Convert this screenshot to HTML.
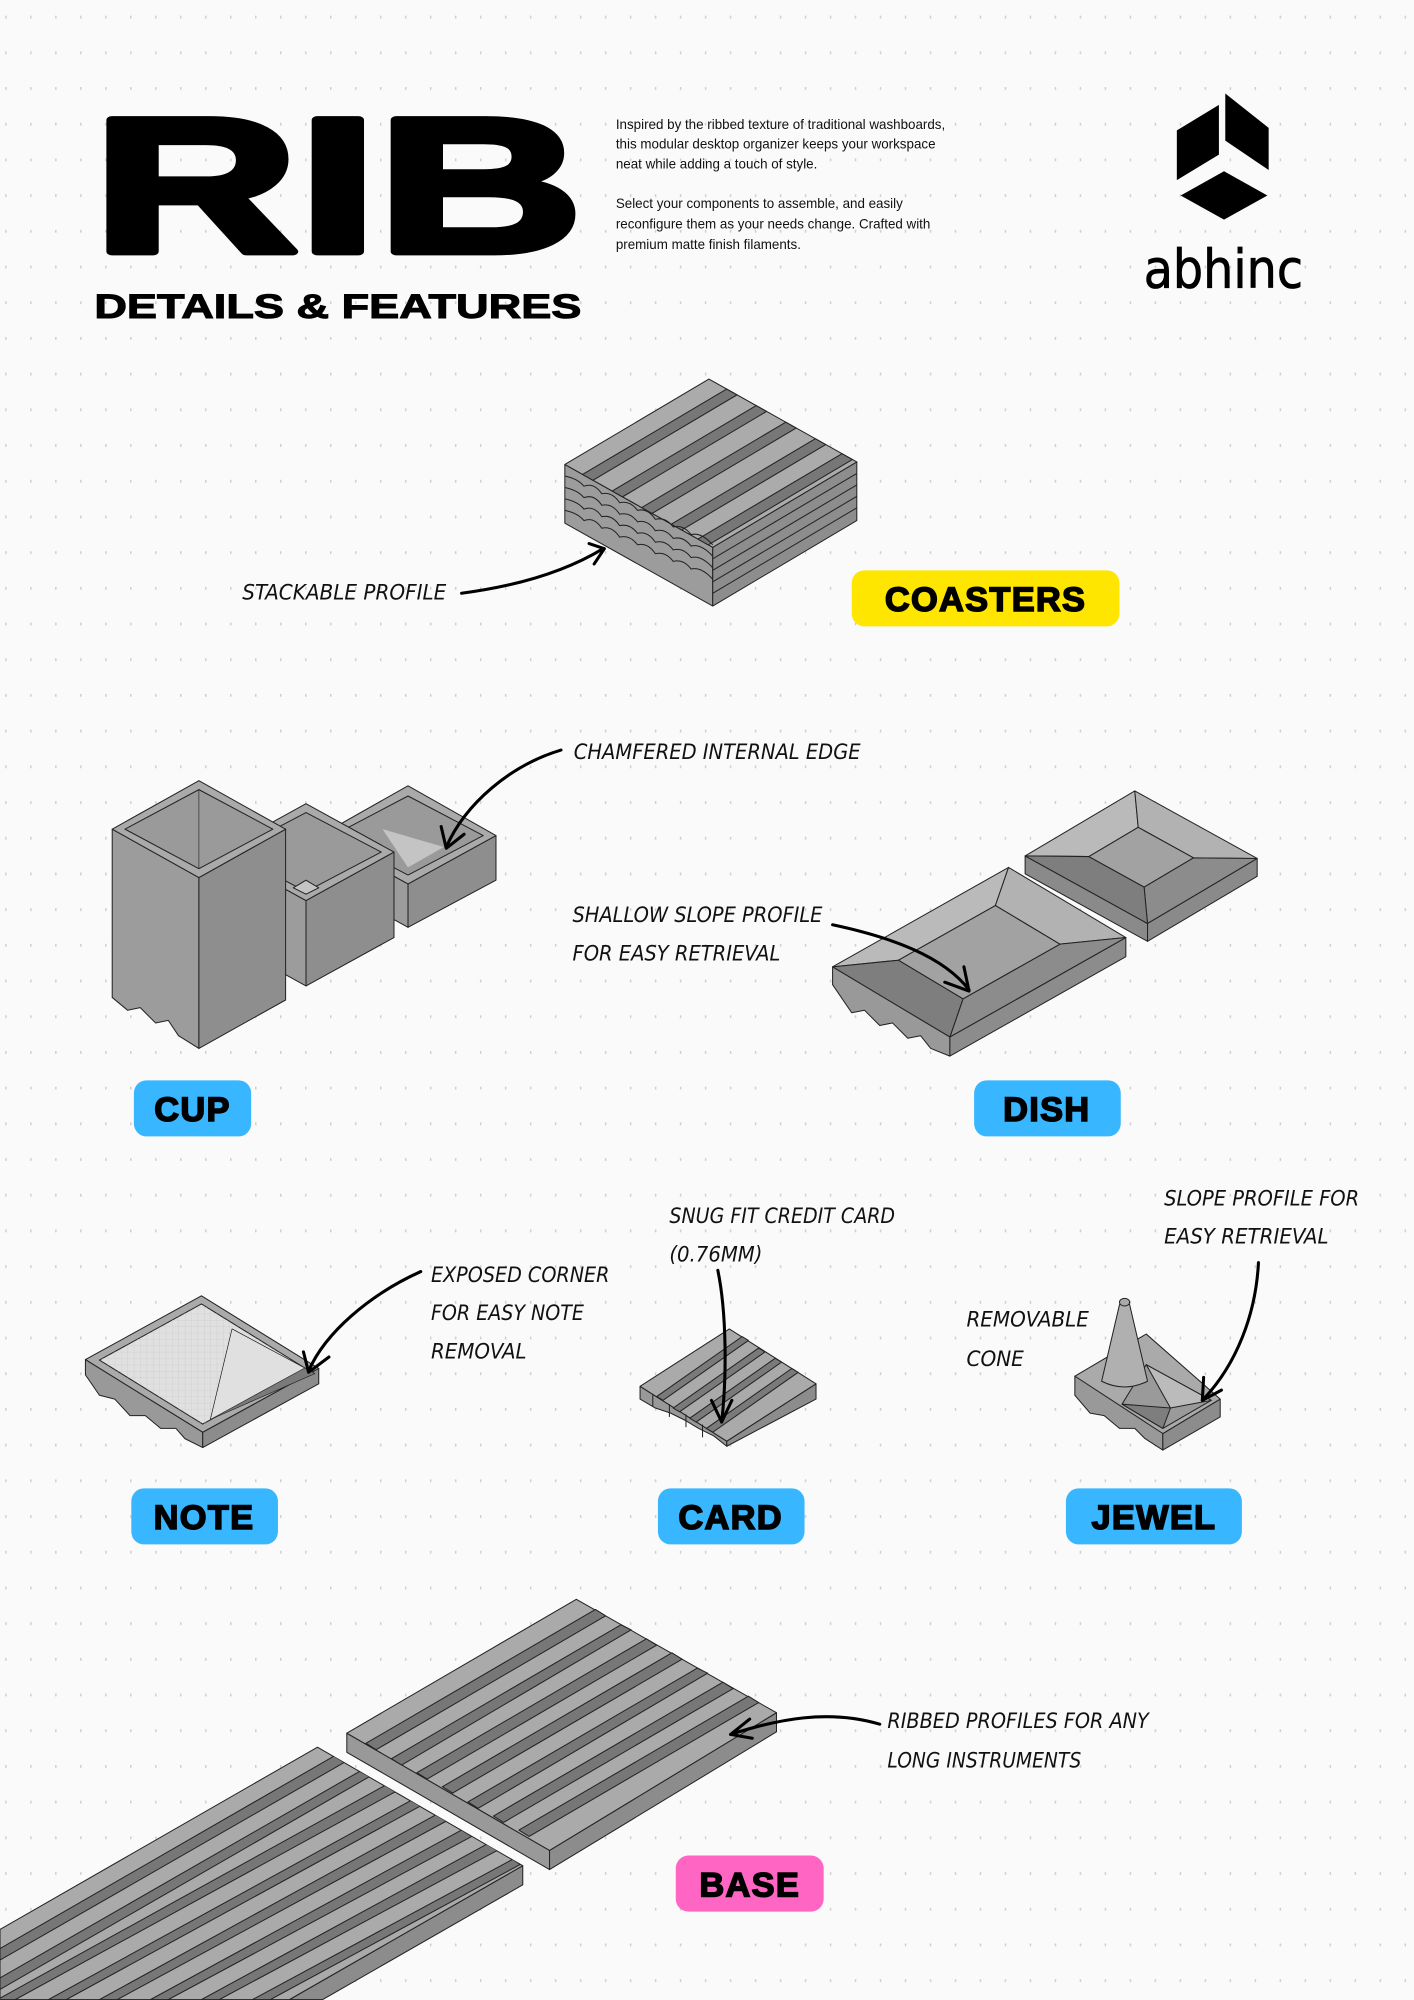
<!DOCTYPE html>
<html><head><meta charset="utf-8"><style>
html,body{margin:0;padding:0;background:#fafafa;}
svg{display:block;}
.h{font-family:"Liberation Sans Narrow","DejaVu Sans Condensed","Liberation Sans",sans-serif;font-style:italic;font-size:17px;fill:#111;}
.b{font-family:"Liberation Sans","DejaVu Sans",sans-serif;font-weight:900;font-size:27px;fill:#000;stroke:#000;stroke-width:1.2;letter-spacing:1px;}
.p{font-family:"Liberation Sans","DejaVu Sans",sans-serif;font-size:10.5px;fill:#111;}
.e{stroke:#222;stroke-width:0.8;stroke-linejoin:round;}
.ar{fill:none;stroke:#000;stroke-width:2.4;stroke-linecap:round;stroke-linejoin:round;}
</style></head><body>
<svg width="1414" height="2000" viewBox="0 0 1109 1568" xmlns="http://www.w3.org/2000/svg">
<defs>
<pattern id="dots" width="19.6" height="28" patternUnits="userSpaceOnUse" x="4" y="12">
<rect x="0" y="0" width="1.2" height="2.2" fill="#cfcfcf"/>
</pattern>
<pattern id="grid" width="5" height="5" patternUnits="userSpaceOnUse">
<path d="M5 0H0V5" fill="none" stroke="#c4c4c4" stroke-width="0.4"/>
</pattern>
<clipPath id="lp"><polygon points="0,1513 249,1370 410,1463 227,1568 0,1568"/></clipPath>
</defs>
<rect width="1109" height="1568" fill="#fafafa"/>
<rect width="1109" height="1568" fill="url(#dots)"/>

<!-- header -->
<text x="73" y="197" font-family="Liberation Sans, sans-serif" font-weight="900" font-size="150" textLength="384" lengthAdjust="spacingAndGlyphs" fill="#000" stroke="#000" stroke-width="6" stroke-linejoin="round">RIB</text>
<text x="74" y="249" font-family="Liberation Sans, sans-serif" font-weight="900" font-size="27" textLength="382" lengthAdjust="spacingAndGlyphs" fill="#000" stroke="#000" stroke-width="0.8">DETAILS &amp; FEATURES</text>
<g class="p">
<text x="483" y="101">Inspired by the ribbed texture of traditional washboards,</text>
<text x="483" y="116">this modular desktop organizer keeps your workspace</text>
<text x="483" y="132">neat while adding a touch of style.</text>
<text x="483" y="163">Select your components to assemble, and easily</text>
<text x="483" y="179">reconfigure them as your needs change. Crafted with</text>
<text x="483" y="195">premium matte finish filaments.</text>
</g>
<g fill="#000">
<polygon points="961,73 995,100 995,133 961,110"/>
<polygon points="923,102 956,82 956,121 923,141"/>
<polygon points="960,134 994,153 960,172 926,153"/>
</g>
<text x="897" y="225" font-family="DejaVu Sans, Liberation Sans, sans-serif" font-size="42" textLength="125" lengthAdjust="spacingAndGlyphs" fill="#000" stroke="#000" stroke-width="0.6">abhinc</text>

<!-- coasters -->
<g class="e">
<polygon points="443,364 559,429 559,475 443,410" fill="#9c9c9c"/>
<polygon points="559,429 672,362 672,408 559,475" fill="#8d8d8d"/>
<polygon points="556,297 672,362 559,429 443,364" fill="#ababab"/>
<g fill="#777">
<polygon points="569.9,304.8 578,309.4 465,376.4 456.9,371.8"/>
<polygon points="593.1,317.8 601.2,322.4 488.2,389.4 480.1,384.8"/>
<polygon points="616.3,330.8 624.4,335.4 511.4,402.4 503.3,397.8"/>
<polygon points="639.5,343.8 647.6,348.4 534.6,415.4 526.5,410.8"/>
<polygon points="660.4,355.5 668.5,360.1 555.5,427.1 547.4,422.5"/>
</g>
<g fill="none">
<path d="M443 373 q10 2 15 8 q8 -3 14 6 q8 -2 14 7 q8 -2 14 6 q8 -2 14 7 q8 -2 14 6 q8 -2 14 6 q8 -2 17 8"/>
<path d="M443 382 q10 2 15 8 q8 -3 14 6 q8 -2 14 7 q8 -2 14 6 q8 -2 14 7 q8 -2 14 6 q8 -2 14 6 q8 -2 17 8"/>
<path d="M443 391 q10 2 15 8 q8 -3 14 6 q8 -2 14 7 q8 -2 14 6 q8 -2 14 7 q8 -2 14 6 q8 -2 14 6 q8 -2 17 8"/>
<path d="M443 400 q10 2 15 8 q8 -3 14 6 q8 -2 14 7 q8 -2 14 6 q8 -2 14 7 q8 -2 14 6 q8 -2 14 6 q8 -2 17 8"/>
<line x1="559" y1="438" x2="672" y2="371"/><line x1="559" y1="447" x2="672" y2="380"/>
<line x1="559" y1="456" x2="672" y2="389"/><line x1="559" y1="465" x2="672" y2="398"/>
</g>
</g>
<text class="h" x="190" y="470" textLength="160" lengthAdjust="spacingAndGlyphs">STACKABLE PROFILE</text>
<path class="ar" d="M362 465 C400 460 440 450 473 430"/>
<path class="ar" d="M462 426 L474 430 L466 442"/>
<rect x="668" y="447" width="210" height="44" rx="10" fill="#ffe600"/>
<text class="b" x="773" y="479" text-anchor="middle">COASTERS</text>

<!-- cup -->
<g class="e">
<polygon points="251,655 320,693 320,727 251,689" fill="#9c9c9c"/>
<polygon points="320,693 389,655 389,690 320,727" fill="#8e8e8e"/>
<polygon points="320,616 389,655 320,693 251,655" fill="#aaa"/>
<polygon points="320,624 379,655 320,686 261,655" fill="#9a9a9a"/>
<polygon points="300,650 348,664 320,680" fill="#c4c4c4" stroke="none"/>
<polygon points="171,668 240,706 240,773 171,735" fill="#9c9c9c"/>
<polygon points="240,706 309,668 309,735 240,773" fill="#8e8e8e"/>
<polygon points="240,630 309,668 240,706 171,668" fill="#aaa"/>
<polygon points="240,637 299,668 240,699 181,668" fill="#9a9a9a"/>
<polygon points="240,690 250,696 240,701 230,696" fill="#c4c4c4"/>
<path d="M88 650 L156 688 L156 822 L140 812 L132 800 L122 802 L110 790 L100 792 L88 782 Z" fill="#9c9c9c"/>
<polygon points="156,688 224,650 224,784 156,822" fill="#8e8e8e"/>
<polygon points="156,612 224,650 156,688 88,650" fill="#aaa"/>
<polygon points="156,619 214,650 156,681 98,650" fill="#9a9a9a"/>
<line x1="156" y1="619" x2="156" y2="681" stroke-width="0.5"/>
</g>
<text class="h" x="450" y="595" textLength="225" lengthAdjust="spacingAndGlyphs">CHAMFERED INTERNAL EDGE</text>
<path class="ar" d="M440 588 C400 600 365 630 350 664"/>
<path class="ar" d="M346 648 L350 665 L364 654"/>
<rect x="105" y="847" width="92" height="44" rx="10" fill="#38b6ff"/>
<text class="b" x="151" y="879" text-anchor="middle">CUP</text>

<!-- dish -->
<g class="e">
<polygon points="804,671 900,724 900,738 804,685" fill="#8a8a8a"/>
<polygon points="900,724 986,673 986,687 900,738" fill="#8a8a8a"/>
<polygon points="890,620 804,671 854,671.5 892.7,648.6" fill="#bababa"/>
<polygon points="890,620 986,673 936,672.5 892.7,648.6" fill="#b2b2b2"/>
<polygon points="986,673 900,724 897.3,695.4 936,672.5" fill="#8c8c8c"/>
<polygon points="804,671 900,724 897.3,695.4 854,671.5" fill="#7e7e7e"/>
<polygon points="892.7,648.6 936,672.5 897.3,695.4 854,671.5" fill="#a2a2a2"/>
<path d="M653 758 L745 813 L745 828 L730 822 L722 812 L712 814 L700 802 L690 804 L678 792 L668 794 L653 772 Z" fill="#999"/>
<polygon points="745,813 883,735 883,750 745,828" fill="#8c8c8c"/>
<polygon points="791,680 653,758 704.7,752.8 780.7,709.9" fill="#bababa"/>
<polygon points="791,680 883,735 831.3,740.2 780.7,709.9" fill="#b2b2b2"/>
<polygon points="883,735 745,813 755.3,783.1 831.3,740.2" fill="#8c8c8c"/>
<polygon points="653,758 745,813 755.3,783.1 704.7,752.8" fill="#7e7e7e"/>
<polygon points="780.7,709.9 831.3,740.2 755.3,783.1 704.7,752.8" fill="#a2a2a2"/>
</g>
<text class="h" x="449" y="723" textLength="196" lengthAdjust="spacingAndGlyphs">SHALLOW SLOPE PROFILE</text>
<text class="h" x="449" y="753" textLength="163" lengthAdjust="spacingAndGlyphs">FOR EASY RETRIEVAL</text>
<path class="ar" d="M653 725 C700 735 740 750 760 776"/>
<path class="ar" d="M741 770 L760 777 L756 758"/>
<rect x="764" y="847" width="115" height="44" rx="10" fill="#38b6ff"/>
<text class="b" x="821" y="879" text-anchor="middle">DISH</text>

<!-- note -->
<g class="e">
<path d="M67 1066 L159 1123 L159 1135 L145 1128 L138 1120 L126 1120 L114 1110 L102 1110 L90 1097 L78 1094 L67 1078 Z" fill="#999"/>
<polygon points="159,1123 250,1073 250,1085 159,1135" fill="#8c8c8c"/>
<polygon points="158,1016 250,1073 159,1123 67,1066" fill="#aaa"/>
<polygon points="158,1022.4 239,1072.6 159,1116.6 78,1066.4" fill="#e0e0e0"/>
<polygon points="158,1022.4 239,1072.6 159,1116.6 78,1066.4" fill="url(#grid)" stroke="none"/>
<polygon points="182,1042 247,1077 165,1113" fill="#7a7a7a" stroke-width="0.5"/>
<polygon points="182,1042 239,1072.6 165,1113" fill="#e0e0e0" stroke-width="0.5"/>
</g>
<text class="h" x="338" y="1005" textLength="140" lengthAdjust="spacingAndGlyphs">EXPOSED CORNER</text>
<text class="h" x="338" y="1035" textLength="120" lengthAdjust="spacingAndGlyphs">FOR EASY NOTE</text>
<text class="h" x="338" y="1065" textLength="75" lengthAdjust="spacingAndGlyphs">REMOVAL</text>
<path class="ar" d="M330 997 C290 1015 255 1045 242 1075"/>
<path class="ar" d="M238 1060 L242 1076 L258 1064"/>
<rect x="103" y="1167" width="115" height="44" rx="10" fill="#38b6ff"/>
<text class="b" x="160" y="1199" text-anchor="middle">NOTE</text>

<!-- card -->
<g class="e">
<path d="M502 1087 L570 1130 L570 1134 L560 1126 L548 1120 L538 1114 L526 1108 L514 1104 L502 1097 Z" fill="#999"/>
<polygon points="570,1130 640,1085 640,1097 570,1134" fill="#8c8c8c"/>
<polygon points="572,1042 640,1085 570,1130 502,1087" fill="#aaa"/>
<g fill="#7a7a7a">
<polygon points="582,1048 587,1051 520,1098 515,1095"/>
<polygon points="595,1057 600,1060 533,1107 528,1104"/>
<polygon points="608,1065 613,1068 546,1115 541,1112"/>
<polygon points="621,1073 626,1076 559,1123 554,1120"/>
</g>
<line x1="512" y1="1093" x2="512" y2="1103"/><line x1="525" y1="1101" x2="525" y2="1111"/>
<line x1="538" y1="1109" x2="538" y2="1119"/><line x1="551" y1="1117" x2="551" y2="1127"/>
</g>
<text class="h" x="525" y="959" textLength="177" lengthAdjust="spacingAndGlyphs">SNUG FIT CREDIT CARD</text>
<text class="h" x="525" y="989" textLength="73" lengthAdjust="spacingAndGlyphs">(0.76MM)</text>
<path class="ar" d="M563 996 C570 1030 570 1080 566 1115"/>
<path class="ar" d="M558 1098 L566 1115 L574 1098"/>
<rect x="516" y="1167" width="115" height="44" rx="10" fill="#38b6ff"/>
<text class="b" x="573" y="1199" text-anchor="middle">CARD</text>

<!-- jewel -->
<g class="e">
<path d="M843 1079 L901 1112 L912 1124 L912 1137 L898 1128 L890 1120 L878 1120 L866 1110 L855 1108 L843 1094 Z" fill="#999"/>
<polygon points="912,1124 957,1097 957,1111 912,1137" fill="#8c8c8c"/>
<polygon points="899,1046 957,1097 912,1124 843,1079" fill="#aaa"/>
<polygon points="899,1070 950,1098 912,1120 880,1101" fill="#9a9a9a"/>
<polygon points="899,1070 950,1098 918,1104" fill="#bbb"/>
<polygon points="880,1101 918,1104 912,1120" fill="#7e7e7e"/>
<path d="M864 1083 L878 1023 Q882 1017 886 1023 L900 1083 Q882 1092 864 1083 Z" fill="#b0b0b0"/>
<ellipse cx="882" cy="1021" rx="4" ry="3" fill="#aaa"/>
</g>
<text class="h" x="758" y="1040" textLength="96" lengthAdjust="spacingAndGlyphs">REMOVABLE</text>
<text class="h" x="758" y="1071" textLength="45" lengthAdjust="spacingAndGlyphs">CONE</text>
<text class="h" x="913" y="945" textLength="153" lengthAdjust="spacingAndGlyphs">SLOPE PROFILE FOR</text>
<text class="h" x="913" y="975" textLength="129" lengthAdjust="spacingAndGlyphs">EASY RETRIEVAL</text>
<path class="ar" d="M987 990 C985 1030 970 1070 943 1098"/>
<path class="ar" d="M944 1080 L943 1098 L958 1090"/>
<rect x="836" y="1167" width="138" height="44" rx="10" fill="#38b6ff"/>
<text class="b" x="905" y="1199" text-anchor="middle">JEWEL</text>

<!-- base -->
<g class="e">
<polygon points="410,1463 410,1478 253,1568 227,1568" fill="#8c8c8c"/>
<polygon points="0,1513 249,1370 410,1463 227,1568 0,1568" fill="#aaa"/>
<g fill="#777" clip-path="url(#lp)">
<polygon points="262,1377 270,1382 0,1537 0,1528"/>
<polygon points="282,1389 290,1393 0,1560 0,1551"/>
<polygon points="302,1400 310,1405 12,1568 -2,1568"/>
<polygon points="322,1412 330,1416 52,1568 38,1568"/>
<polygon points="342,1423 350,1428 92,1568 78,1568"/>
<polygon points="362,1435 370,1440 132,1568 118,1568"/>
<polygon points="382,1446 390,1451 172,1568 158,1568"/>
<polygon points="402,1458 408,1462 212,1568 198,1568"/>
</g>
<polygon points="272,1359 431,1451 431,1466 272,1374" fill="#999"/>
<polygon points="431,1451 609,1343 609,1358 431,1466" fill="#8c8c8c"/>
<polygon points="452,1254 609,1343 431,1451 272,1359" fill="#aaa"/>
<g fill="#777">
<polygon points="467,1262 475,1267 295,1372 287,1367"/>
<polygon points="487,1274 495,1278 315,1384 307,1379"/>
<polygon points="507,1285 515,1290 335,1395 327,1390"/>
<polygon points="527,1296 535,1301 355,1406 347,1401"/>
<polygon points="547,1308 555,1312 375,1418 367,1413"/>
<polygon points="567,1319 575,1324 395,1429 387,1424"/>
<polygon points="587,1330 595,1335 415,1440 407,1435"/>
</g>
</g>
<text class="h" x="696" y="1355" textLength="205" lengthAdjust="spacingAndGlyphs">RIBBED PROFILES FOR ANY</text>
<text class="h" x="696" y="1386" textLength="152" lengthAdjust="spacingAndGlyphs">LONG INSTRUMENTS</text>
<path class="ar" d="M690 1352 C650 1340 610 1348 573 1360"/>
<path class="ar" d="M588 1348 L573 1360 L590 1363"/>
<rect x="530" y="1455" width="116" height="44" rx="10" fill="#ff66c4"/>
<text class="b" x="588" y="1487" text-anchor="middle">BASE</text>
</svg>
</body></html>
